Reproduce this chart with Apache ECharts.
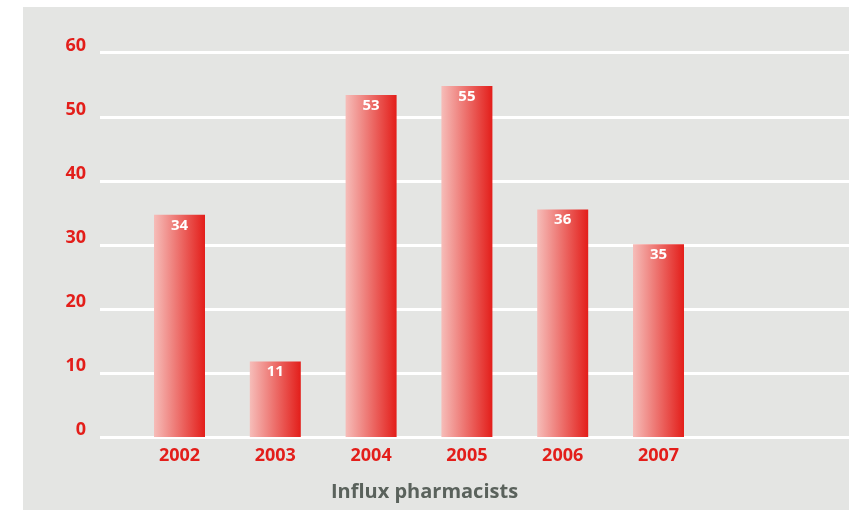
<!DOCTYPE html>
<html>
<head>
<meta charset="utf-8">
<title>Influx pharmacists</title>
<script src="https://cdn.jsdelivr.net/npm/echarts@6/dist/echarts.min.js"></script>
<style>
  html, body { margin: 0; padding: 0; background: #fff; }
  #chart { width: 849px; height: 510px; }
</style>
</head>
<body>
<div id="chart"></div>
<script>
// data
var years = ['2002', '2003', '2004', '2005', '2006', '2007'];
// bar heights as drawn
var heights = [34.7, 11.8, 53.4, 54.8, 35.5, 30.1];
// numbers printed on the bars
var barLabels = ['34', '11', '53', '55', '36', '35'];
var yTicks = [0, 10, 20, 30, 40, 50, 60];

var red = '#e31e1a';
var font = '"Open Sans", "Noto Sans", sans-serif';

var chart = echarts.init(document.getElementById('chart'));

var option = {
  animation: false,
  backgroundColor: 'transparent',
  graphic: [{
    type: 'rect',
    left: 23,
    top: 7,
    z: -10,
    shape: { width: 826, height: 503 },
    style: { fill: '#e4e5e3' }
  }],
  title: {
    text: 'Influx pharmacists',
    left: 'center',
    top: 477,
    textStyle: {
      fontFamily: font,
      fontWeight: 'bold',
      fontSize: 20,
      color: '#5a625c'
    }
  },
  grid: [
    // full width grid, only for the white lines and y labels
    { left: 100, right: 0, top: 52.7, bottom: 73 },
    // bars
    { left: 131.6, width: 574.8, top: 52.7, bottom: 73 }
  ],
  xAxis: [{
    gridIndex: 0,
    type: 'value',
    show: false
  }, {
    gridIndex: 1,
    type: 'category',
    data: years,
    axisLine: { show: false },
    axisTick: { show: false },
    axisLabel: {
      margin: 10,
      fontFamily: font,
      fontWeight: 'bold',
      fontSize: 18,
      color: red
    }
  }],
  yAxis: [{
    gridIndex: 0,
    type: 'value',
    min: yTicks[0],
    max: yTicks[yTicks.length - 1],
    interval: 10,
    axisLine: { show: false },
    axisTick: { show: false },
    splitLine: { lineStyle: { color: '#ffffff', width: 3 } },
    axisLabel: {
      margin: 14,
      fontFamily: font,
      fontWeight: 'bold',
      fontSize: 18,
      color: red,
      verticalAlign: 'bottom',
      lineHeight: 14
    }
  }, {
    gridIndex: 1,
    type: 'value',
    min: yTicks[0],
    max: yTicks[yTicks.length - 1],
    interval: 10,
    show: false,
    splitLine: { show: false }
  }],
  series: [{
    type: 'bar',
    xAxisIndex: 1,
    yAxisIndex: 1,
    barWidth: 51,
    data: heights,
    itemStyle: {
      color: new echarts.graphic.LinearGradient(0, 0, 1, 0, [
        { offset: 0, color: '#f6bdb9' },
        { offset: 1, color: '#e31e1a' }
      ])
    },
    label: {
      show: true,
      position: 'insideTop',
      distance: 3,
      fontFamily: font,
      fontWeight: 'bold',
      fontSize: 15,
      color: '#ffffff',
      formatter: function (p) {
        return barLabels[p.dataIndex];
      }
    }
  }]
};

chart.setOption(option);
</script>
</body>
</html>
